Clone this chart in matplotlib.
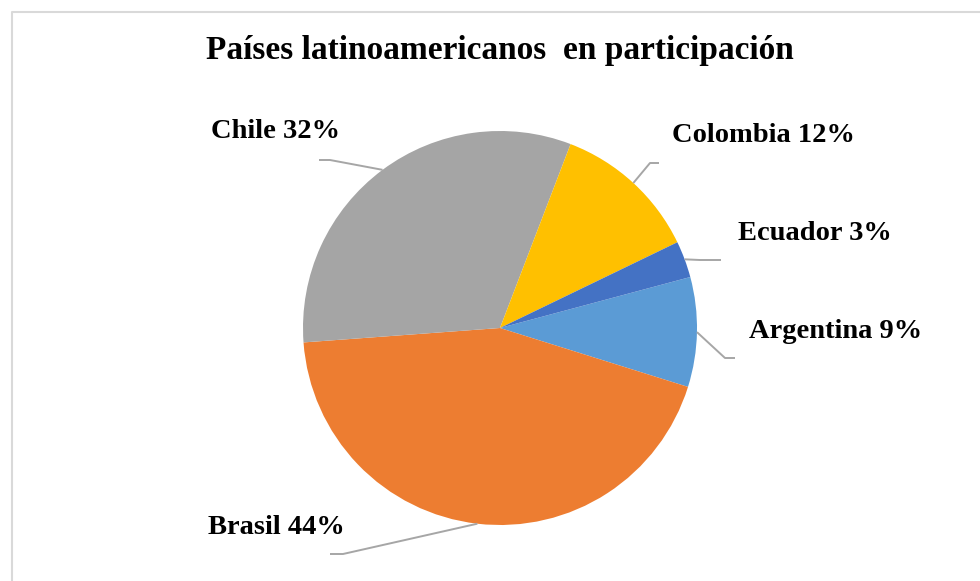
import numpy as np
import matplotlib
matplotlib.use("Agg")
import matplotlib.pyplot as plt

# data (order as in the source workbook)
paises = ["Argentina", "Brasil", "Chile", "Colombia", "Ecuador"]
porcentajes = [9, 44, 32, 12, 3]
colores = ["#5B9BD5", "#ED7D31", "#A5A5A5", "#FFC000", "#4472C4"]
titulo = "Países latinoamericanos  en participación"

W, H = 980, 581
fig = plt.figure(figsize=(W / 100, H / 100), dpi=100)
ax = fig.add_axes([0, 0, 1, 1])


def py(y):
    # pixel row -> data y
    return H - y


cx, cy, r = 500, py(328), 197
wedges, _ = ax.pie(porcentajes, colors=colores, startangle=15, counterclock=False,
                   center=(cx, cy), radius=r, frame=True,
                   wedgeprops=dict(linewidth=0))
ax.set_xlim(0, W)
ax.set_ylim(0, H)
ax.set_aspect("equal")
ax.axis("off")

# chart frame
ax.plot([12, 12, W], [py(H), py(12), py(12)], color="#D9D9D9", lw=1.5)

ax.text(500, py(50), titulo, ha="center", va="center", fontsize=24,
        fontweight="bold", family="Liberation Serif")

# label layout: text center, elbow, end of leader
layout = {
    "Argentina": ((836, 331), (725, 358), (735, 358)),
    "Brasil": ((276, 528), (343, 554), (330, 554)),
    "Chile": ((275, 131), (330, 160), (319, 160)),
    "Colombia": ((763, 136), (650, 163), (659, 163)),
    "Ecuador": ((815, 234), (700, 260), (721, 260)),
}

for w, name, val in zip(wedges, paises, porcentajes):
    ang = np.deg2rad((w.theta1 + w.theta2) / 2)
    x0, y0 = cx + r * np.cos(ang), cy + r * np.sin(ang)
    (tx, ty), (ex, ey), (fx, fy) = layout[name]
    ax.plot([x0, ex, fx], [y0, py(ey), py(fy)], color="#A6A6A6", lw=1.4,
            solid_capstyle="butt")
    ax.text(tx, py(ty), f"{name} {val}%", ha="center", va="center",
            fontsize=20.5, fontweight="bold", family="Liberation Serif")

fig.savefig("out.png", dpi=100, facecolor="white")
